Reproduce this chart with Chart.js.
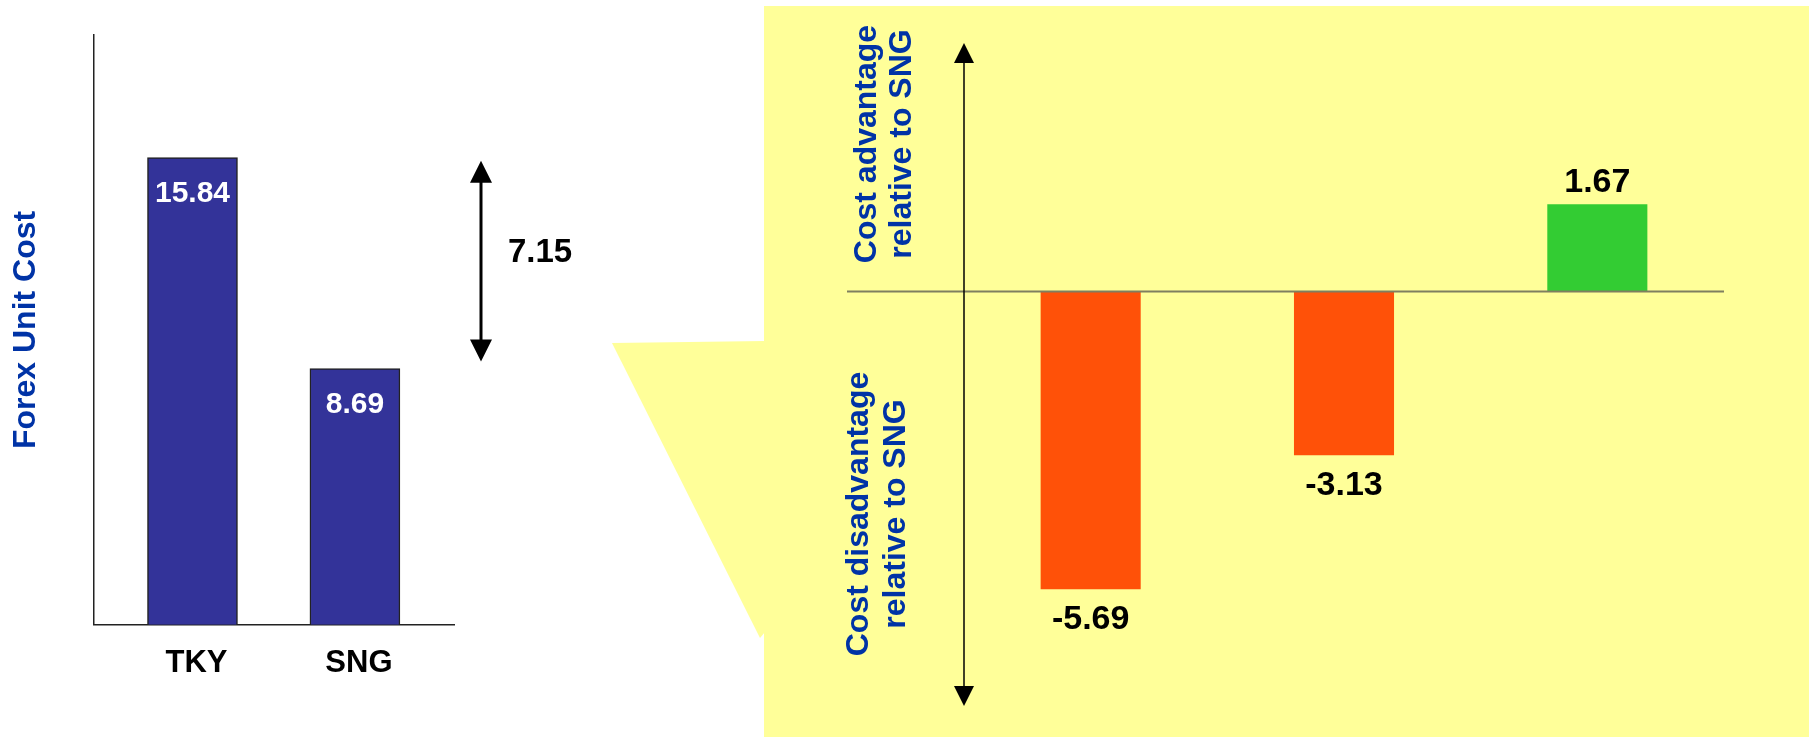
<!DOCTYPE html>
<html>
<head>
<meta charset="utf-8">
<script src="https://cdn.jsdelivr.net/npm/chart.js@4.4.1/dist/chart.umd.min.js"></script>
<style>
  html, body { margin: 0; padding: 0; background: #ffffff; }
  body { width: 1809px; height: 737px; position: relative; overflow: hidden; }
  #costChart { position: absolute; left: 0; top: 0; }
  #gapChart { position: absolute; left: 600px; top: 0; }
</style>
</head>
<body>
<canvas id="costChart" width="600" height="737"></canvas>
<canvas id="gapChart" width="1209" height="737"></canvas>
<script>
// Forex unit cost per site
const categories = ['TKY', 'SNG'];
const forexCost = [15.84, 8.69];

// Cost gaps relative to SNG
const gapLabels = ['Gap 1', 'Gap 2', 'Gap 3'];
const gapValues = [-5.69, -3.13, 1.67];

const costAxisTitle = 'Forex Unit Cost';
const advantageTitle = ['Cost advantage', 'relative to SNG'];
const disadvantageTitle = ['Cost disadvantage', 'relative to SNG'];

const FONT = "'Liberation Sans', Arial, Helvetica, sans-serif";
const TITLE_BLUE = '#0033A6';
const PANEL_YELLOW = '#FFFF99';

function arrowHead(ctx, x, tipY, dir, halfW, len) {
  ctx.beginPath();
  ctx.moveTo(x, tipY);
  ctx.lineTo(x - halfW, tipY + dir * len);
  ctx.lineTo(x + halfW, tipY + dir * len);
  ctx.closePath();
  ctx.fill();
}

function verticalText(ctx, lines, baselineXs, centerY) {
  lines.forEach((t, i) => {
    ctx.save();
    ctx.translate(baselineXs[i], centerY);
    ctx.rotate(-Math.PI / 2);
    ctx.textAlign = 'center';
    ctx.textBaseline = 'alphabetic';
    ctx.fillText(t, 0, 0);
    ctx.restore();
  });
}

// Value labels inside the bars plus the difference arrow
const costDecor = {
  id: 'costDecor',
  afterDatasetsDraw(chart) {
    const ctx = chart.ctx;
    const meta = chart.getDatasetMeta(0);
    const y = chart.scales.y;
    ctx.save();
    ctx.fillStyle = '#ffffff';
    ctx.font = `bold 30px ${FONT}`;
    ctx.textAlign = 'center';
    ctx.textBaseline = 'middle';
    meta.data.forEach((bar, i) => {
      ctx.fillText(forexCost[i].toFixed(2), bar.x, bar.y + 36);
    });

    const ax = chart.chartArea.right + 27;
    const top = y.getPixelForValue(forexCost[0]) + 3;
    const bot = y.getPixelForValue(forexCost[1]) - 7;
    ctx.strokeStyle = '#000';
    ctx.fillStyle = '#000';
    ctx.lineWidth = 3;
    ctx.beginPath();
    ctx.moveTo(ax, top + 18);
    ctx.lineTo(ax, bot - 18);
    ctx.stroke();
    arrowHead(ctx, ax, top, 1, 11, 22);
    arrowHead(ctx, ax, bot, -1, 11, 22);

    ctx.font = `bold 33px ${FONT}`;
    ctx.textAlign = 'center';
    ctx.textBaseline = 'middle';
    ctx.fillText((forexCost[0] - forexCost[1]).toFixed(2), ax + 59, (top + bot) / 2 - 8);
    ctx.restore();
  }
};

new Chart(document.getElementById('costChart'), {
  type: 'bar',
  data: {
    datasets: [{
      data: categories.map((c, i) => ({ x: i + 1, y: forexCost[i] })),
      backgroundColor: '#333399',
      borderColor: '#222222',
      borderWidth: 1.5,
      barThickness: 90
    }]
  },
  options: {
    responsive: false,
    animation: false,
    devicePixelRatio: 1,
    layout: { padding: { left: 3, right: 146, top: 35, bottom: 35 } },
    plugins: { legend: { display: false }, tooltip: { enabled: false } },
    scales: {
      x: {
        type: 'linear',
        min: 0.39,
        max: 2.61,
        offset: false,
        grid: { display: false, drawTicks: false, tickLength: 0, offset: false },
        border: { display: true, color: '#222', width: 1.5 },
        ticks: {
          stepSize: 1,
          includeBounds: false,
          autoSkip: false,
          maxRotation: 0,
          padding: 20,
          labelOffset: 4,
          color: '#000',
          font: { family: FONT, size: 31, weight: 'bold' },
          callback: (v) => (Number.isInteger(v) && categories[v - 1]) ? categories[v - 1] : ''
        }
      },
      y: {
        min: 0,
        max: 20,
        grid: { display: false, drawTicks: false, tickLength: 0 },
        border: { display: true, color: '#222', width: 1.5 },
        ticks: { display: false },
        title: {
          display: true,
          text: costAxisTitle,
          color: TITLE_BLUE,
          font: { family: FONT, size: 32, weight: 'bold' },
          padding: { top: 4, bottom: 48 }
        }
      }
    }
  },
  plugins: [costDecor]
});

// Yellow call-out panel, zero line, direction arrow, labels and titles
const gapDecor = {
  id: 'gapDecor',
  beforeDraw(chart) {
    const ctx = chart.ctx;
    ctx.save();
    ctx.fillStyle = PANEL_YELLOW;
    ctx.fillRect(164, 6, chart.width - 164, chart.height - 6);
    ctx.beginPath();
    ctx.moveTo(12, 343);
    ctx.lineTo(165, 341);
    ctx.lineTo(165, 632);
    ctx.lineTo(160, 638);
    ctx.closePath();
    ctx.fill();
    ctx.restore();
  },
  afterDatasetsDraw(chart) {
    const ctx = chart.ctx;
    const area = chart.chartArea;
    const y = chart.scales.y;
    const zeroY = y.getPixelForValue(0);
    ctx.save();

    // zero line
    ctx.strokeStyle = '#7F7F60';
    ctx.lineWidth = 2;
    ctx.beginPath();
    ctx.moveTo(area.left - 117, zeroY);
    ctx.lineTo(area.right, zeroY);
    ctx.stroke();

    // vertical double arrow
    const ax = area.left;
    const topTip = area.top;
    const botTip = area.bottom - 4;
    ctx.strokeStyle = '#000';
    ctx.fillStyle = '#000';
    ctx.lineWidth = 1.5;
    ctx.beginPath();
    ctx.moveTo(ax, topTip + 15);
    ctx.lineTo(ax, botTip - 15);
    ctx.stroke();
    arrowHead(ctx, ax, topTip, 1, 10, 20);
    arrowHead(ctx, ax, botTip, -1, 10, 20);

    // value labels
    const meta = chart.getDatasetMeta(0);
    ctx.fillStyle = '#000';
    ctx.font = `bold 34px ${FONT}`;
    ctx.textAlign = 'center';
    ctx.textBaseline = 'alphabetic';
    meta.data.forEach((bar, i) => {
      const v = gapValues[i];
      const ty = v < 0 ? bar.y + 40 : bar.y - 12;
      ctx.fillText(v.toFixed(2), bar.x, ty);
    });

    // side titles
    ctx.fillStyle = TITLE_BLUE;
    ctx.font = `bold 32px ${FONT}`;
    verticalText(ctx, advantageTitle, [276, 311], 144);
    verticalText(ctx, disadvantageTitle, [268, 305], 514);
    ctx.restore();
  }
};

new Chart(document.getElementById('gapChart'), {
  type: 'bar',
  data: {
    labels: gapLabels,
    datasets: [{
      data: gapValues,
      backgroundColor: gapValues.map(v => v < 0 ? '#FF5108' : '#33CC33'),
      borderWidth: 0,
      barPercentage: 0.395,
      categoryPercentage: 1
    }]
  },
  options: {
    responsive: false,
    animation: false,
    devicePixelRatio: 1,
    layout: { padding: { left: 364, right: 85, top: 43, bottom: 27 } },
    plugins: { legend: { display: false }, tooltip: { enabled: false } },
    scales: {
      x: { display: false },
      y: { display: false, min: -8, max: 4.75 }
    }
  },
  plugins: [gapDecor]
});
</script>
</body>
</html>
